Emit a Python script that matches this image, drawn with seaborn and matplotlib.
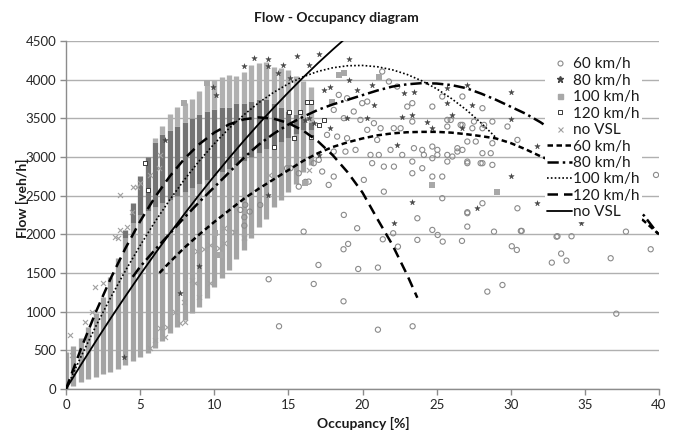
import matplotlib
matplotlib.use("Agg")
import matplotlib.pyplot as plt
import numpy as np
import pandas as pd
import seaborn as sns
from matplotlib.lines import Line2D

# ---------------- data ----------------
# Dense cloud: one column per occupancy level (0.5 % steps)
cloud_occ = [0, 0.5, 1, 1.5, 2, 2.5, 3, 3.5, 4, 4.5, 5, 5.5, 6, 6.5, 7, 7.5, 8,
             8.5, 9, 9.5, 10, 10.5, 11, 11.5, 12, 12.5, 13, 13.5, 14, 14.5,
             15, 15.5, 16, 16.5]
cloud_low = [0, 40, 90, 130, 160, 190, 220, 260, 310, 360, 420, 470, 530, 620,
             720, 800, 890, 980, 1060, 1180, 1320, 1430, 1540, 1680, 1800,
             1950, 2100, 2200, 2350, 2450, 2550, 2650, 2800, 2900]
cloud_grey_top = [480, 560, 660, 800, 980, 1190, 1450, 1700, 1950, 2150, 2250,
                  2300, 2350, 2400, 2450, 2500, 2550, 2600, 2650, 2700, 2750,
                  2800, 2850, 2900, 2950, 3000, 3050, 3100, 3150, 3200, 3250,
                  3300, 3350, 3350]
cloud_dark_top = [480, 560, 660, 800, 980, 1190, 1450, 1700, 2050, 2400, 2750,
                  3000, 3200, 3300, 3350, 3400, 3450, 3500, 3550, 3600, 3620,
                  3650, 3650, 3700, 3700, 3720, 3750, 3750, 3700, 3650, 3600,
                  3550, 3500, 3450]
cloud_top = [480, 560, 660, 800, 980, 1190, 1450, 1700, 2050, 2400, 2750,
             3000, 3250, 3400, 3550, 3650, 3700, 3750, 3850, 3950, 4000, 4030,
             4060, 4050, 4100, 4190, 4220, 4230, 4170, 4150, 4120, 4050, 3980,
             3900]

# Sparse measured points
v60_occ = [16.03, 18.74, 19.64, 21.44, 23.7, 24.71, 25.38, 24.71, 27.07, 27.07,
           23.36, 21.44, 22.12, 20.09, 18.06, 17.72, 16.71, 15.7, 16.37, 15.14,
           17.05, 18.06, 18.85, 19.53, 20.54, 21.1, 21.89, 20.99, 18.29, 17.61,
           18.96, 20.32, 21.22, 22.11, 22.57, 19.86, 20.77, 18.74, 19.41, 18.06,
           19.98, 20.32, 18.96, 18.4, 21.78, 21.33, 22.34, 23.02, 23.36, 23.36,
           23.47, 23.36, 24.03, 24.71, 24.14, 26.4, 25.95, 26.62, 27.41, 24.71,
           27.64, 28.2, 28.76, 28.65, 27.97, 27.07, 25.72, 24.71, 22.68, 20.65,
           17.28, 13.67, 14.37, 17.03, 16.71, 18.72, 19.03, 18.72, 19.71, 21.04,
           21.37, 22.07, 22.39, 21.04, 23.38, 23.7, 25.07, 25.41, 26.71, 28.42,
           29.44, 30.07, 30.41, 30.74, 32.77, 33.09, 33.4, 33.76, 34.1, 36.74,
           37.12, 37.77, 39.44, 25.38, 26.74, 28.09, 25.72, 25.72, 26.74, 27.52,
           28.09, 29.78, 27.07, 28.76, 30.45, 24.03, 25.05, 25.05, 26.4, 26.74,
           26.06, 25.72, 27.07, 28.09, 28.09, 28.76, 25.38, 27.07, 28.09, 30.45,
           30.68, 33.15, 39.8, 14.91, 15.7, 11.76, 12.09, 12.39, 12.03, 12.03,
           13.1, 16.15, 28.87]
v60_flow = [2035, 2251, 2079, 2552, 2208, 2057, 2747, 2747, 2273, 2100,
            2790, 2876, 2876, 2704, 2747, 2639, 2920, 2617, 2682, 2855,
            2963, 3070, 3070, 3092, 3027, 3027, 3092, 3221, 3264, 3286,
            3243, 3351, 3372, 3372, 3372, 3480, 3437, 3502, 3588, 3609,
            3696, 3717, 3760, 3803, 3976, 4105, 3911, 3652, 3696, 3458,
            3114, 2941, 2855, 3135, 3027, 3070, 3480, 3415, 3372, 3652,
            3200, 3415, 3458, 3049, 2920, 2941, 3027, 2984, 3027, 2920,
            2812, 1419, 811, 1604, 1358, 1807, 1876, 1134, 1552, 1570,
            1936, 2014, 1841, 767, 811, 1928, 1992, 1906, 1915, 1259,
            1345, 1846, 1798, 2044, 1634, 1970, 1751, 1660, 1975, 1691,
            974, 2035, 1807, 3782, 3782, 3631, 3480, 3394, 3415, 3458,
            3372, 3394, 3200, 3178, 3221, 3092, 3092, 3027, 3114, 3092,
            3006, 2941, 2920, 3049, 2920, 2898, 2467, 2286, 2402, 2337,
            2044, 1975, 2768, 2855, 2790, 2316, 2381, 2294, 2221, 2113,
            2380, 2678, 2035]

v80_occ = [12.7, 13.65, 15.6, 14.66, 13.6, 12.0, 14.3, 9.9, 6.7, 13.65, 10.1,
           16.15, 17.05, 15.14, 16.37, 19.08, 19.08, 17.84, 17.39, 19.64, 20.65,
           20.77, 18.96, 17.84, 16.37, 16.71, 20.32, 22.79, 23.47, 22.68, 23.36,
           24.37, 25.72, 27.07, 26.06, 22.34, 23.36, 22.11, 27.75, 17.05, 25.72,
           27.41, 26.74, 24.71, 30.05, 30.05, 31.76, 30.05, 31.76, 34.73, 9.0,
           7.7, 3.9]
v80_flow = [4282, 4269, 4308, 4191, 4178, 4178, 4088, 3907, 3221, 2510, 3803,
            3480, 4334, 4019, 4191, 4265, 3997, 3911, 3868, 3868, 3933,
            3674, 3502, 3372, 3502, 3437, 3502, 3825, 3846, 3523, 3545,
            3458, 3696, 3933, 3545, 3157, 2423, 2143, 2337, 3027, 3890,
            3674, 3372, 3372, 3838, 3489, 3143, 2755, 2402, 2143, 1591,
            1238, 418]

v100_occ = [18.4, 18.74, 21.1, 24.71, 29.1, 17.95, 10.36, 10.07, 16.15, 7.97, 9.5]
v100_flow = [4062, 4083, 4040, 2639, 2552, 3717, 1734, 2022, 2661, 3696, 3955]

v120_occ = [15.02, 15.36, 17.05, 17.39, 16.5, 5.34, 14.0, 16.26, 5.56, 15.8, 16.5]
v120_flow = [3588, 3243, 3415, 3480, 3717, 2928, 3135, 3717, 2574, 3588, 3264]

novsl_occ = [0.27, 0.38, 1.96, 2.52, 1.73, 1.28, 7.36, 8.04, 6.69, 6.01, 5.68,
             6.8, 10.68, 9.73, 8.72, 9.0, 7.97, 11.3, 12.03, 7.7, 6.35, 3.54,
             3.65, 4.55, 5.0, 5.68, 6.24, 3.31, 3.65, 4.1, 4.44, 13.67, 16.38,
             10.63, 11.42, 10.3, 11.98, 9.73, 9.28, 8.83, 8.49, 4.77, 6.35]
novsl_flow = [699, 440, 1323, 1367, 1000, 871, 1000, 871, 677, 634, 527,
              806, 1885, 1367, 1367, 1194, 1129, 2035, 1962, 849, 785, 1950,
              2510, 2617, 2661, 2768, 2855, 1970, 2057, 2100, 2294, 2768, 2833,
              2079, 2035, 1820, 1949, 1863, 1807, 1785, 1410, 2617, 3027]

# Fitted model curves
m60_occ = [6.3, 7, 8, 9, 10, 11, 12, 13, 14, 15, 16, 17, 18, 19, 20, 21, 22, 23,
           24, 25, 26, 27, 28, 29, 30, 31, 32, 33, 34, 35, 36, 37, 38, 39, 40]
m60_flow = [1500, 1640, 1830, 2000, 2160, 2310, 2460, 2590, 2710, 2830, 2950,
            3050, 3130, 3190, 3240, 3280, 3305, 3320, 3325, 3325, 3315, 3295,
            3270, 3240, 3180, 3100, 3010, 2930, 2830, 2720, 2600, 2470, 2330,
            2170, 2000]
m80_occ = [4.5, 5, 6, 7, 8, 9, 10, 11, 12, 13, 14, 15, 16, 17, 18, 19, 20, 21,
           22, 23, 24, 25, 26, 27, 28, 29, 30, 31, 32, 33, 34, 35, 36, 37, 38,
           39, 40]
m80_flow = [1450, 1580, 1800, 2010, 2220, 2420, 2610, 2800, 2990, 3160, 3300,
            3420, 3520, 3610, 3680, 3740, 3800, 3860, 3910, 3940, 3955, 3950,
            3930, 3890, 3820, 3740, 3650, 3560, 3450, 3320, 3170, 3010, 2830,
            2640, 2440, 2240, 1990]
m100_occ = list(range(0, 30))
m100_flow = [0, 414, 807, 1178, 1527, 1855, 2162, 2447, 2710, 2952, 3171, 3370,
             3546, 3702, 3835, 3947, 4038, 4107, 4154, 4180, 4184, 4167, 4128,
             4068, 3985, 3882, 3756, 3610, 3440, 3251]
m120_occ = [0, 1, 2, 3, 4, 5, 6, 7, 8, 9, 10, 11, 12, 13, 14, 15, 16, 17, 18,
            19, 20, 21, 22, 23, 23.7]
m120_flow = [0, 516, 990, 1424, 1817, 2169, 2480, 2750, 2980, 3168, 3315, 3422,
             3487, 3512, 3496, 3439, 3341, 3202, 3022, 2802, 2540, 2200, 1870,
             1480, 1180]
mnov_occ = list(range(0, 20))
mnov_flow = [0, 311, 614, 910, 1197, 1477, 1748, 2012, 2267, 2515, 2755, 2987,
             3211, 3427, 3636, 3836, 4029, 4214, 4390, 4559]

x_ticks = [0, 5, 10, 15, 20, 25, 30, 35, 40]
y_ticks = [0, 500, 1000, 1500, 2000, 2500, 3000, 3500, 4000, 4500]
labels = ["60 km/h", "80 km/h", "100 km/h", "120 km/h", "no VSL"]

# ---------------- styling ----------------
sns.set_theme(style="white")
plt.rcParams['font.family'] = ['Lato', 'DejaVu Sans']

fig = plt.figure(figsize=(6.77, 4.32), dpi=100)
ax = fig.add_axes([66 / 677, 43 / 432, 593 / 677, 348 / 432])

GRID = '#b0b0b0'
c_grey = '#a4a4a4'
c_dark = '#747474'
c_light = '#b0b0b0'

# dense cloud columns
colw = 3.8
ax.vlines(cloud_occ, cloud_low, cloud_grey_top, colors=c_grey, lw=colw, zorder=2)
ax.vlines(cloud_occ, cloud_grey_top, cloud_dark_top, colors=c_dark, lw=colw, zorder=2)
ax.vlines(cloud_occ, cloud_dark_top, cloud_top, colors=c_light, lw=colw, zorder=2)

# sparse points
sns.scatterplot(x=v60_occ, y=v60_flow, marker='o', s=14, facecolor='none',
                edgecolor='#8a8a8a', linewidth=0.8, ax=ax, zorder=3)
sns.scatterplot(x=v80_occ, y=v80_flow, marker='*', s=17, color='#454545',
                edgecolor='#454545', linewidth=0.3, ax=ax, zorder=3)
sns.scatterplot(x=v100_occ, y=v100_flow, marker='s', s=13, color='#a8a8a8',
                edgecolor='#a8a8a8', linewidth=0, ax=ax, zorder=3)
sns.scatterplot(x=v120_occ, y=v120_flow, marker='s', s=12, facecolor='white',
                edgecolor='#3a3a3a', linewidth=0.7, ax=ax, zorder=3)
sns.scatterplot(x=novsl_occ, y=novsl_flow, marker='x', s=13, color='#a0a0a0',
                linewidth=0.8, ax=ax, zorder=3)

# model curves
line_specs = [
    (m60_occ, m60_flow, dict(lw=1.8, dashes=(2.2, 1.4))),
    (m80_occ, m80_flow, dict(lw=1.8, dashes=(4.5, 1.6, 1.0, 1.6))),
    (m100_occ, m100_flow, dict(lw=1.2, dashes=(1, 1.3))),
    (m120_occ, m120_flow, dict(lw=1.8, dashes=(4.2, 2.4))),
    (mnov_occ, mnov_flow, dict(lw=1.3)),
]
for xo, yf, kw in line_specs:
    sns.lineplot(x=xo, y=yf, color='black', sort=False, estimator=None,
                 ax=ax, zorder=4, **kw)

# axes
ax.set_xlim(0, 40)
ax.set_ylim(0, 4500)
ax.set_xticks(x_ticks)
ax.set_yticks(y_ticks)
ax.yaxis.grid(True, color=GRID, lw=1.0)
ax.xaxis.grid(False)
ax.set_axisbelow(True)
for s in ['top', 'right']:
    ax.spines[s].set_visible(False)
for s in ['left', 'bottom']:
    ax.spines[s].set_color('#8c8c8c')
    ax.spines[s].set_linewidth(1.0)
ax.tick_params(axis='both', which='major', direction='out', length=4,
               color='#8c8c8c', width=1.0, labelsize=9.5, labelcolor='#262626',
               left=True, bottom=True, pad=3)
ax.set_xlabel('')
ax.set_ylabel('')

fig.text(0.497, 0.958, 'Flow - Occupancy diagram', ha='center', va='center',
         fontsize=10, fontweight='bold', color='#1a1a1a')
fig.text(363 / 677, 1 - 423 / 432, 'Occupancy [%]', ha='center', va='center',
         fontsize=10, fontweight='bold', color='#1a1a1a')
fig.text(22 / 677, 1 - 198 / 432, 'Flow [veh/h]', ha='center', va='center',
         rotation=90, fontsize=10, fontweight='bold', color='#1a1a1a')

# legend
handles = [
    Line2D([], [], ls='none', marker='o', mfc='none', mec='#8a8a8a', ms=3.6, mew=0.8),
    Line2D([], [], ls='none', marker='*', color='#454545', ms=4.5),
    Line2D([], [], ls='none', marker='s', color='#a8a8a8', ms=3.6),
    Line2D([], [], ls='none', marker='s', mfc='white', mec='#3a3a3a', ms=3.4, mew=0.7),
    Line2D([], [], ls='none', marker='x', color='#a0a0a0', ms=3.6, mew=0.8),
]
for _, _, kw in line_specs:
    handles.append(Line2D([], [], color='black', **kw))
leg = ax.legend(handles, labels + labels, loc='upper left',
                bbox_to_anchor=((545 - 66) / 593, (389 - 55) / 348),
                frameon=True, facecolor='white', edgecolor='none', framealpha=1,
                fontsize=11, handlelength=1.6, handletextpad=0.08,
                labelspacing=0.16, borderpad=0.15, borderaxespad=0)
leg.set_zorder(5)
for t in leg.get_texts():
    t.set_color('#1a1a1a')

fig.savefig('out.png', dpi=100)
